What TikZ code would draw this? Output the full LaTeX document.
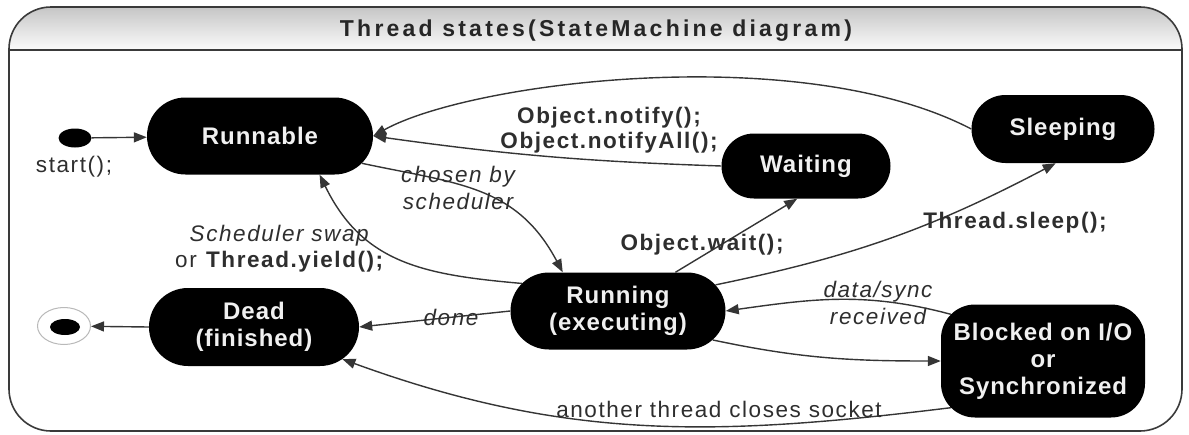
\documentclass[tikz,border=0pt]{standalone}
\usepackage{fontspec}
\setmainfont{Liberation Sans}
\newfontfamily\titlefont{Liberation Sans}[LetterSpace=14]
\newfontfamily\statefont{Liberation Sans}[LetterSpace=4]
\newfontfamily\labelfont{Liberation Sans}[LetterSpace=7]
\usetikzlibrary{arrows.meta,shapes.misc,shapes.geometric,calc}
\definecolor{linecol}{HTML}{353535}
\definecolor{labelcol}{HTML}{2E2E2E}
\definecolor{framecol}{HTML}{3A3A3A}
\begin{document}
\begin{tikzpicture}[x=1pt,y=1pt,
  state/.style={rounded rectangle, fill=black, text=white!94!black,
    font={\statefont\bfseries\fontsize{24}{27}\selectfont}, align=center, inner sep=0pt},
  blockbox/.style={rectangle, rounded corners=34pt, fill=black, text=white!94!black,
    font={\statefont\bfseries\fontsize{24}{27}\selectfont}, align=center, inner sep=0pt},
  lbl/.style={font={\labelfont\fontsize{22.5}{26}\selectfont}, text=labelcol, inner sep=0pt, align=center},
  lbli/.style={lbl, font={\labelfont\itshape\fontsize{22.5}{27}\selectfont}},
  lblb/.style={lbl, font={\labelfont\bfseries\fontsize{22.5}{25}\selectfont}},
  arr/.style={draw=linecol, line width=1.4pt, -{Triangle[length=13pt,width=10pt]}}]

\useasboundingbox (0,0) rectangle (1189,-434);

% frame with shaded title band
\begin{scope}
  \clip[rounded corners=42pt] (9,-7) rectangle (1182,-431);
  \shade[top color=gray!45, bottom color=gray!3] (9,-7) rectangle (1182,-50);
\end{scope}
\draw[framecol, line width=1.3pt] (9,-50) -- (1182,-50);
\draw[framecol, line width=1.6pt, rounded corners=42pt] (9,-7) rectangle (1182,-431);
\node[font={\titlefont\bfseries\fontsize{23}{27}\selectfont}, text=black!85, anchor=base, inner sep=0pt]
  (title) at (596,-36.5) {Thread states(StateMachine diagram)};

% states
\node[ellipse, fill=black, minimum width=33pt, minimum height=19pt, inner sep=0pt] (start) at (75,-138) {};
\node[ellipse, draw=gray!55, line width=1pt, fill=white, minimum width=53pt, minimum height=37pt, inner sep=0pt] (final) at (64,-326) {};
\node[ellipse, fill=black, minimum width=30pt, minimum height=16pt, inner sep=0pt] (finalcore) at (65,-327) {};

\node[state, minimum width=226pt, minimum height=77pt] (runnable) at (260,-136) {Runnable};
\node[state, minimum width=169pt, minimum height=65pt] (waiting) at (806,-166) {Waiting};
\node[state, minimum width=183pt, minimum height=68pt] (sleeping) at (1063,-129) {Sleeping};
\node[state, minimum width=215pt, minimum height=77pt] (running) at (618,-311) {Running\\(executing)};
\node[state, minimum width=210pt, minimum height=78pt] (dead) at (254,-327) {Dead\\(finished)};
\node[blockbox, minimum width=204pt, minimum height=113pt] (blocked) at (1043,-361) {Blocked on I/O\\or\\Synchronized};

% transitions
\draw[arr] (start) -- (runnable);
\draw[arr] (sleeping.west) .. controls (800,-40) and (470,-82) .. (runnable.east);
\draw[arr] (waiting.west) to[bend left=3] (runnable.east);
\draw[arr] (runnable.-15) to[out=-12, in=118, looseness=1.1] (running.145);
\draw[arr] (running.164) to[out=175, in=-64, looseness=1.1] (runnable.-33);
\draw[arr] (running.34) -- (waiting.-105);
\draw[arr] (running.15) to[bend right=8] (sleeping.-102);
\draw[arr] (running.west) -- (dead.east);
\draw[arr] ($(blocked.north west)+(10,-10)$) to[out=165, in=8] (running.east);
\draw[arr] (running.-17) to[out=-12, in=180] (blocked.west);
\draw[arr] ($(blocked.south west)+(10,10)$) to[out=187, in=-20] (dead.-20);
\draw[arr] (dead.west) -- (final);

% transition labels
\node[lbl, anchor=base] (lstart) at (74,-172) {start();};
\node[lblb] (lnotify) at (609,-130) {Object.notify();\\Object.notifyAll();};
\node[lbli] (lchosen) at (458,-188) {chosen by\\scheduler};
\node[lbl] (lswap) at (280,-249) {\textit{Scheduler swap}\\or \textbf{Thread.yield();}};
\node[lblb, anchor=base] (lwait) at (702,-250) {Object.wait();};
\node[lblb, anchor=base] (lsleep) at (1015,-228) {Thread.sleep();};
\node[lbli, anchor=base] (ldone) at (451,-325) {done};
\node[lbli] (ldata) at (878,-303) {data/sync\\received};
\node[lbl, anchor=base] (lsocket) at (719,-417) {another thread closes socket};
\end{tikzpicture}
\end{document}
